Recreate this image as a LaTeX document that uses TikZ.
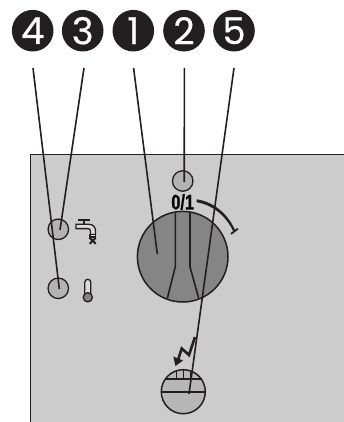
\documentclass[tikz,border=0pt]{standalone}
\usepackage{fontspec}
\setmainfont{Poppins}
\newfontfamily\badgefont[FakeBold=0.5]{Poppins}
\newfontfamily\zeroone[FakeBold=1]{Liberation Sans Bold}
\definecolor{ink}{HTML}{231F20}
\definecolor{panel}{HTML}{CCCCCC}
\definecolor{btn}{HTML}{B3B3B3}
\definecolor{knob}{HTML}{858585}
\tikzset{
  x=1pt,y=-1pt,
  badge/.style={circle,fill=ink,text=white,minimum size=41.6pt,inner sep=0pt,font=\badgefont\fontsize{37}{37}\selectfont},
  btnc/.style={circle,draw=ink,fill=btn,line width=1.3pt,minimum size=20.5pt,inner sep=0pt},
  lead/.style={draw=ink,line width=1.6pt},
  thin/.style={draw=ink,line width=1.6pt},
}
\begin{document}
\begin{tikzpicture}
\useasboundingbox (0,0) rectangle (344,422);
% panel
\fill[panel] (30.5,155) rectangle (344,422);
\draw[ink,line width=1.8pt] (30.5,422) -- (30.5,154.5) -- (344,154.5);
% badges
\node[badge] (b4) at (32.7,30.7) {4};
\node[badge] (b3) at (82.7,30.7) {3};
\node[badge] (b1) at (133.3,30.7) {1};
\node[badge] (b2) at (184,30.7) {2};
\node[badge] (b5) at (234,30.7) {5};
% buttons
\node[btnc] (p3) at (58.3,229.3) {};
\node[btnc] (p4) at (58.3,288.3) {};
\node[btnc] (p2) at (182.7,181) {};
\node[circle,draw=ink,fill=knob,line width=1.5pt,minimum size=90.6pt,inner sep=0pt] (kn) at (182.7,256.7) {};
\node[circle,draw=ink,fill=btn!85!panel,line width=1.5pt,minimum size=44pt,inner sep=0pt] (p5) at (183.3,391.7) {};
% knob grip
\draw[thin] (175.3,212.5) -- (175.3,266.7) -- (167.3,298.5);
\draw[thin] (190,212.5) -- (190,266.7) -- (198.7,298.5);
% display lines in the lower circle
\draw[thin] (p5.west) -- (p5.east);
\draw[thin] (164.7,379) -- (201.9,379);
\draw[thin] (176.3,370.5) -- (176.3,379);
\draw[thin] (183.5,369.7) -- (183.5,379);
\draw[thin] (191,370.5) -- (191,379);
% 0/1 and arrow
\node[inner sep=0pt,font=\zeroone\fontsize{21}{21}\selectfont,xscale=.78,transform shape] (sw) at (182.7,202) {0/1};
\fill[ink] (196.7,199.3) .. controls (214,202) and (228,214) .. (235.3,230.6) -- (233.3,231.4) .. controls (226,216) and (213,205) .. (196.5,202.2) -- cycle;
\draw[ink,line width=1.8pt] (231,233.9) -- (237.9,228.7);
% lightning
\draw[ink,line width=2.6pt,miter limit=6] (195,337) -- (189,355) -- (181.7,348.5) -- (178,360);
\fill[ink] (175.5,366) -- (173.3,356.5) -- (183,360.5) -- cycle;
% tap
\draw[ink,line width=1.8pt] (78.3,220) -- (89.5,220);
\draw[ink,line width=2pt] (83.8,220) -- (83.8,224.5);
\draw[ink,line width=1.3pt,fill=panel!70!white] (76,224.3) -- (89,224.3) .. controls (93,224.3) and (95.5,227) .. (95.5,231) -- (95.5,234.5) -- (90.5,234.5) -- (90.5,231.5) .. controls (90.5,229.5) and (89.5,228.6) .. (88,228.6) -- (76,228.6) -- cycle;
\draw[ink,line width=1.3pt,fill=panel!70!white] (90,234.5) rectangle (95.8,237);
\draw[ink,line width=2pt] (89.6,237.8) -- (95.8,243.8) (95.8,237.8) -- (89.6,243.8);
% thermometer
\draw[ink,line width=1.3pt,fill=panel!70!white] (84.8,294) -- (84.8,282.3) arc[start angle=180,end angle=360,radius=3] -- (90.8,294);
\draw[ink,line width=1.3pt,fill=knob] (87.8,297.3) circle[radius=4.6];
% leaders
\coordinate (s4) at (33,68);
\coordinate (s3) at (84,68);
\coordinate (s1) at (133.6,68);
\coordinate (s2) at (184.4,68);
\coordinate (s5) at (234,68);
\coordinate (e3) at (60,230);
\coordinate (e4) at (59.3,289);
\coordinate (e1) at (157.3,254);
\coordinate (e2) at (184.2,182);
\coordinate (e5) at (189,394);
\draw[lead] (s4) -- (e4);
\draw[lead] (s3) -- (e3);
\draw[lead] (s1) -- (e1);
\draw[lead] (s2) -- (e2);
\draw[lead] (s5) -- (e5);
\end{tikzpicture}
\end{document}
